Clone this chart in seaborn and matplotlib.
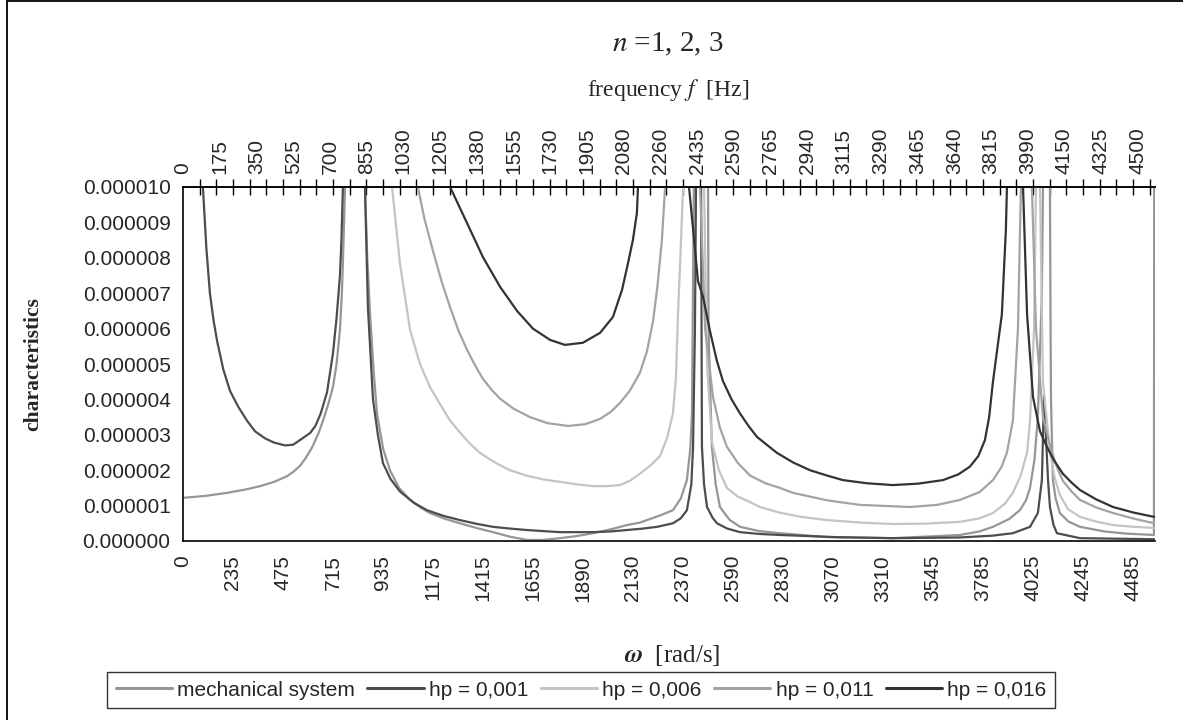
import matplotlib
matplotlib.use("Agg")
import matplotlib.pyplot as plt
import pandas as pd
import seaborn as sns
from matplotlib.ticker import FixedLocator, FuncFormatter
from matplotlib.lines import Line2D

# omega in rad/s, characteristics in units of 1e-6 (values > 10 run off the top)
omega_mech = [0, 100, 208, 300, 364, 430, 491, 520, 552, 580, 610, 640, 661, 685, 708, 725, 741,
              750, 755, 765, 788, 836, 859, 870, 883, 900, 916, 945, 977, 1020, 1072, 1120, 1166,
              1240, 1308, 1390, 1464, 1545, 1624, 1700, 1780, 1860, 1936, 2020, 2096, 2157,
              2205, 2260, 2313, 2350, 2379, 2395, 2403, 2408, 2412, 2441, 2474, 2479, 2481,
              2497, 2515, 2535, 2580, 2630, 2720, 2818, 3040, 3352, 3668, 3760, 3824, 3900,
              3951, 3980, 3999, 4020, 4036, 4055, 4060, 4074, 4088, 4093, 4096, 4098, 4107,
              4120, 4140, 4180, 4235, 4350, 4450, 4584, 4586]
char_mech = [1.22, 1.27, 1.36, 1.46, 1.55, 1.67, 1.83, 1.95, 2.12, 2.35, 2.65, 3.05, 3.4, 3.85, 4.35,
             5.0, 5.96, 7.0, 7.85, 10, 16, 16, 10, 8.0, 6.44, 4.8, 3.6, 2.6, 2.0, 1.5, 1.16,
             0.95, 0.79, 0.62, 0.5, 0.36, 0.25, 0.12, 0.03, 0.03, 0.08, 0.14, 0.22, 0.33,
             0.45, 0.52, 0.62, 0.74, 0.87, 1.2, 1.72, 2.6, 3.6, 7.4, 10, 16, 16, 10, 6.0,
             2.66, 1.6, 0.96, 0.6, 0.4, 0.28, 0.22, 0.11, 0.08, 0.17, 0.27, 0.4, 0.62,
             0.87, 1.15, 1.5, 2.3, 3.5, 7, 10, 16, 16, 10, 6, 4, 1.72,
             1.2, 0.79, 0.55, 0.4, 0.27, 0.21, 0.17, 16]

omega_hp001 = [0, 94, 110, 127, 145, 161, 190, 222, 260, 302, 340, 387, 430, 482, 520, 552,
               600, 625, 650, 680, 708, 725, 741, 748, 755, 779, 836, 859, 873, 897, 920, 944,
               980, 1024, 1090, 1152, 1230, 1308, 1390, 1464, 1545, 1624, 1700, 1780, 1860,
               1936, 2020, 2096, 2170, 2238, 2313, 2350, 2379, 2400, 2408, 2417, 2422, 2431,
               2441, 2446, 2450, 2460, 2474, 2500, 2521, 2570, 2630, 2720, 2818, 3080, 3352,
               3668, 3820, 3918, 3999, 4036, 4055, 4065, 4084, 4093, 4110, 4126, 4235, 4586]
char_hp001 = [16, 10, 8.3, 7.0, 6.2, 5.65, 4.85, 4.24, 3.8, 3.4, 3.1, 2.9, 2.78, 2.7, 2.72, 2.85,
              3.05, 3.25, 3.6, 4.2, 5.3, 6.3, 7.5, 8.5, 10, 16, 16, 10, 6.6, 4.0, 3.0, 2.2,
              1.75, 1.4, 1.08, 0.87, 0.71, 0.59, 0.48, 0.40, 0.35, 0.31, 0.28, 0.25, 0.25,
              0.25, 0.27, 0.31, 0.35, 0.40, 0.5, 0.64, 0.87, 1.6, 2.66, 6, 10, 16,
              16, 10, 2.66, 1.6, 0.96, 0.66, 0.5, 0.35, 0.25, 0.2, 0.17, 0.11, 0.08,
              0.1, 0.15, 0.22, 0.4, 0.79, 1.72, 4.1, 1.72, 0.96, 0.45, 0.22, 0.08, 0.05]

omega_hp006 = [0, 987, 1024, 1072, 1119, 1166, 1215, 1261, 1310, 1355, 1400, 1450, 1500, 1544,
               1620, 1700, 1780, 1860, 1936, 2000, 2063, 2110, 2157, 2210, 2252, 2285, 2313,
               2327, 2337, 2350, 2361, 2394, 2455, 2460, 2474, 2497, 2530, 2568, 2620, 2677,
               2724, 2818, 2920, 3040, 3200, 3352, 3500, 3668, 3760, 3824, 3880, 3918, 3955,
               3985, 3999, 4018, 4027, 4036, 4041, 4046, 4060, 4093, 4115, 4140, 4178, 4235,
               4310, 4391, 4490, 4586]
char_hp006 = [16, 10, 7.85, 5.96, 5.0, 4.35, 3.85, 3.4, 3.05, 2.75, 2.5, 2.3, 2.13, 2.0,
              1.85, 1.74, 1.67, 1.6, 1.55, 1.55, 1.58, 1.7, 1.9, 2.15, 2.4, 2.9, 3.6,
              4.6, 6.4, 8.3, 10, 16, 16, 10, 5, 2.8, 2.0, 1.5, 1.25, 1.1,
              0.96, 0.8, 0.68, 0.59, 0.52, 0.48, 0.49, 0.54, 0.64, 0.79, 1.05, 1.36, 1.85,
              2.5, 3.4, 6, 10, 16, 16, 10, 4.5, 2.5, 1.8, 1.3, 0.9, 0.68,
              0.55, 0.45, 0.4, 0.37]

omega_hp011 = [0, 1109, 1140, 1180, 1220, 1261, 1300, 1341, 1380, 1416, 1460, 1497, 1560, 1638,
               1720, 1818, 1900, 1969, 2020, 2063, 2110, 2157, 2190, 2219, 2240, 2261, 2276,
               2346, 2436, 2441, 2465, 2502, 2535, 2568, 2620, 2677, 2750, 2818, 2880, 3040,
               3196, 3432, 3560, 3668, 3760, 3824, 3865, 3890, 3918, 3942, 3956, 3980, 4008,
               4027, 4060, 4098, 4125, 4154, 4195, 4235, 4310, 4391, 4490, 4586]
char_hp011 = [16, 10, 9.1, 8.2, 7.35, 6.6, 5.95, 5.4, 4.95, 4.58, 4.25, 4.02, 3.74, 3.5,
              3.33, 3.25, 3.3, 3.45, 3.65, 3.9, 4.25, 4.75, 5.35, 6.2, 7.2, 8.5, 10,
              16, 16, 10, 6, 4.07, 3.2, 2.66, 2.2, 1.85, 1.63, 1.5, 1.36, 1.15,
              1.02, 0.96, 1.02, 1.16, 1.38, 1.72, 2.1, 2.5, 3.4, 6, 10, 16, 10,
              6, 3.5, 2.6, 2.1, 1.7, 1.4, 1.16, 0.95, 0.79, 0.63, 0.5]

omega_hp016 = [0, 1261, 1341, 1416, 1497, 1577, 1652, 1733, 1803, 1888, 1969, 2030, 2073, 2101,
               2124, 2143, 2148, 2252, 2370, 2389, 2410, 2431, 2455, 2488, 2520, 2549, 2590,
               2630, 2670, 2710, 2760, 2804, 2880, 2960, 3040, 3116, 3230, 3352, 3470, 3588,
               3660, 3715, 3755, 3786, 3806, 3824, 3846, 3866, 3885, 3890, 3928, 3966, 3985,
               4013, 4046, 4079, 4110, 4154, 4195, 4235, 4310, 4391, 4490, 4586]
char_hp016 = [16, 10, 8.98, 8.02, 7.18, 6.5, 6.0, 5.68, 5.54, 5.6, 5.88, 6.33, 7.1, 7.85,
              8.5, 9.27, 10, 16, 16, 10, 8.7, 7.35, 6.9, 5.93, 5.1, 4.52, 4.0,
              3.6, 3.25, 2.94, 2.7, 2.49, 2.22, 2.0, 1.85, 1.72, 1.63, 1.58, 1.62, 1.72,
              1.88, 2.1, 2.4, 2.85, 3.5, 4.5, 5.5, 6.4, 8.8, 10, 16, 10, 6.4,
              4.07, 3.1, 2.66, 2.3, 1.9, 1.65, 1.44, 1.18, 0.96, 0.8, 0.68]

series_names = ["mechanical system", "hp = 0,001", "hp = 0,006", "hp = 0,011", "hp = 0,016"]
series_colors = ["#969696", "#4d4d4d", "#c4c4c4", "#a3a3a3", "#333333"]

omega_labels = ["0", "235", "475", "715", "935", "1175", "1415", "1655", "1890", "2130",
                "2370", "2590", "2830", "3070", "3310", "3545", "3785", "4025", "4245", "4485"]
freq_labels = ["0", "175", "350", "525", "700", "855", "1030", "1205", "1380", "1555", "1730",
               "1905", "2080", "2260", "2435", "2590", "2765", "2940", "3115", "3290", "3465",
               "3640", "3815", "3990", "4150", "4325", "4500"]

frames = []
for name, om, ch in zip(series_names,
                        [omega_mech, omega_hp001, omega_hp006, omega_hp011, omega_hp016],
                        [char_mech, char_hp001, char_hp006, char_hp011, char_hp016]):
    frames.append(pd.DataFrame({"omega": om, "char": ch, "series": name}))
df = pd.concat(frames, ignore_index=True)
palette = dict(zip(series_names, series_colors))

sns.set_style("white")
plt.rcParams["font.family"] = ["Liberation Sans", "DejaVu Sans"]
plt.rcParams["mathtext.fontset"] = "stix"

W, H = 1183, 720
fig = plt.figure(figsize=(W / 100, H / 100), dpi=100)
ax = fig.add_axes([183 / W, 1 - 541 / H, (1155 - 183) / W, (541 - 187) / H])

sns.lineplot(data=df, x="omega", y="char", hue="series", hue_order=series_names,
             palette=palette, estimator=None, sort=False, legend=False,
             linewidth=1.6, ax=ax)

x_max = 4589
ax.set_xlim(0, x_max)
ax.set_ylim(0, 10)
ax.set_xlabel("")
ax.set_ylabel("")

lab_step = 236.05
tick_step = lab_step / 3
ax.xaxis.set_major_locator(FixedLocator([k * lab_step for k in range(len(omega_labels))]))
ax.set_xticklabels(omega_labels, rotation=90, fontsize=15)
ax.xaxis.set_minor_locator(FixedLocator([j * tick_step for j in range(59)]))
ax.yaxis.set_major_locator(FixedLocator(range(11)))
ax.yaxis.set_major_formatter(FuncFormatter(lambda v, p: f"{v * 1e-6:.6f}"))
ax.tick_params(axis="both", which="both", direction="inout", length=12, width=1,
               color="black", labelsize=15)
ax.tick_params(axis="x", which="major", pad=4)
ax.tick_params(axis="y", which="major", pad=3)

for side in ["left", "bottom", "top"]:
    ax.spines[side].set_color("black")
    ax.spines[side].set_linewidth(1.2)
ax.spines["right"].set_visible(False)

sec = ax.secondary_xaxis("top")
sec.xaxis.set_major_locator(FixedLocator([k * 173.4 for k in range(len(freq_labels))]))
sec.set_xticklabels(freq_labels, rotation=90, fontsize=15)
sec.xaxis.set_minor_locator(FixedLocator([j * tick_step for j in range(59)]))
sec.tick_params(axis="x", which="major", length=0, pad=9, labelsize=15)
sec.tick_params(axis="x", which="minor", direction="inout", length=12, width=1, color="black")
sec.spines["top"].set_linewidth(1.2)

serif = ["Liberation Serif", "DejaVu Serif"]
fig.text(668 / W, 1 - 44 / H, r"$n$ =1, 2, 3", ha="center", va="center",
         fontsize=21, family=serif)
fig.text(668 / W, 1 - 90 / H, r"frequency $f$  [Hz]", ha="center", va="center",
         fontsize=17, family=serif)
fig.text(672 / W, 1 - 655 / H, r"$\boldsymbol{\omega}$  [rad/s]", ha="center", va="center",
         fontsize=18, family=serif)
fig.text(33 / W, 1 - 364 / H, "characteristics", ha="center", va="center",
         rotation=90, fontsize=15.5, fontweight="bold", family=serif)

handles = [Line2D([0], [0], color=c, lw=2.2) for c in series_colors]
leg = fig.legend(handles, series_names, loc="center", bbox_to_anchor=(581 / W, 1 - 690 / H),
                 ncol=5, fontsize=15, frameon=True, fancybox=False, edgecolor="black",
                 handlelength=2.7, handletextpad=0.25, columnspacing=0.6, borderpad=0.4,
                 borderaxespad=0)
leg.get_frame().set_linewidth(1.0)

# outer chart border
fig.add_artist(Line2D([7 / W, 7 / W], [0, 1 - 1 / H], color="black", lw=1.3,
                      transform=fig.transFigure))
fig.add_artist(Line2D([7 / W, 1], [1 - 1 / H, 1 - 1 / H], color="black", lw=1.3,
                      transform=fig.transFigure))

fig.savefig("out.png", dpi=100, facecolor="white")
